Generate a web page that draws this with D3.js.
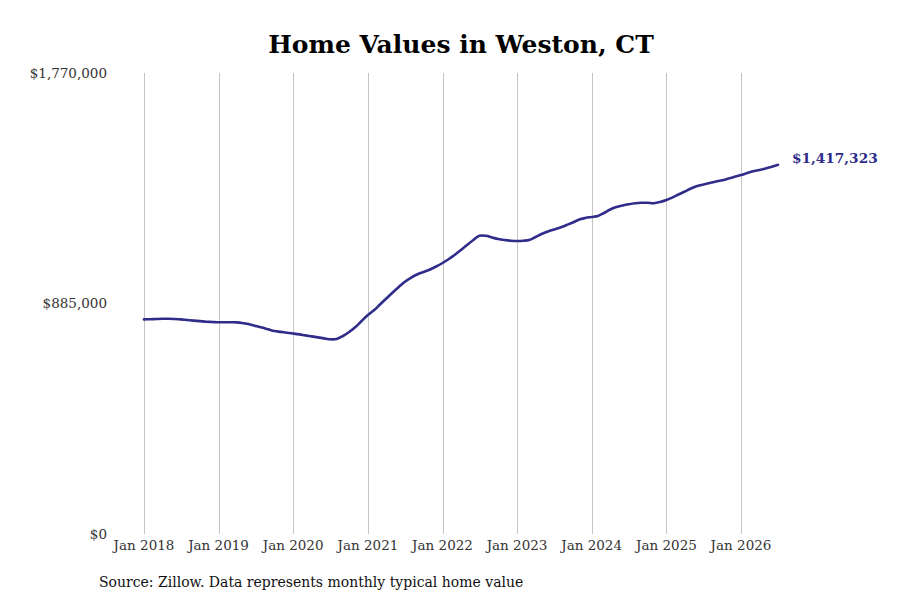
<!DOCTYPE html>
<html><head><meta charset="utf-8">
<script src="https://cdn.jsdelivr.net/npm/d3@7"></script>
<style>body{margin:0;background:#fff;} svg{display:block;}</style>
</head><body>
<svg id="c" width="900" height="600"></svg>
<script>
const startDate = "2018-01-01";
const values = [
824000,824700,825500,826300,826600,825500,824000,821600,819300,817400,815100,814000,
812800,812900,812900,812500,809400,805100,798600,792500,785900,779400,776000,772900,
769800,766400,762500,758700,754900,751000,747500,748700,760200,775600,794800,817800,
840800,860000,881200,904200,926500,948400,968700,984800,997100,1006000,1015500,1027100,
1040500,1055900,1071200,1090400,1109600,1128800,1145300,1144900,1138400,1132600,1128800,1126100,
1125000,1126100,1128800,1140300,1151800,1161400,1169100,1176800,1186400,1196000,1207500,1213300,
1217100,1221000,1232500,1245900,1255500,1261300,1265900,1269700,1271600,1271600,1270100,1274700,
1282400,1292700,1303500,1315000,1326500,1336100,1341900,1347700,1353400,1358000,1364900,1371500,
1378400,1386100,1392600,1397600,1403300,1409900,1417323
];
const yTicks = [0, 885000, 1770000];
const xTickYears = [2018,2019,2020,2021,2022,2023,2024,2025,2026];
const title = "Home Values in Weston, CT";
const source = "Source: Zillow. Data represents monthly typical home value";
const lineColor = "#2f2c8a";

const parse = d3.timeParse("%Y-%m-%d");
const t0 = parse(startDate);
const data = values.map((v,i)=>({date:d3.timeMonth.offset(t0,i), value:v}));

const svg = d3.select("#c");
const font = "'DejaVu Serif', serif";

const x = d3.scaleTime().domain([new Date(2018,0,1), new Date(2026,0,1)]).range([144, 741]);
const y = d3.scaleLinear().domain([0, 1770000]).range([534, 73]);

// gridlines
svg.append("g").selectAll("line").data(xTickYears).join("line")
  .attr("x1", d=>Math.round(x(new Date(d,0,1)))+0.5).attr("x2", d=>Math.round(x(new Date(d,0,1)))+0.5)
  .attr("y1", y(1770000)).attr("y2", y(0))
  .attr("stroke", "#c4c4c4").attr("stroke-width", 1);

// x labels
svg.append("g").selectAll("text").data(xTickYears).join("text")
  .attr("x", d=>x(new Date(d,0,1))).attr("y", 550)
  .attr("text-anchor","middle").attr("font-family", font).attr("font-size", 13.5).attr("fill","#333")
  .text(d=>d3.timeFormat("%b %Y")(new Date(d,0,1)));

// y labels
const fmt = d3.format("$,.0f");
svg.append("g").selectAll("text").data(yTicks).join("text")
  .attr("x", 107).attr("y", d=>y(d)).attr("dy","0.35em")
  .attr("text-anchor","end").attr("font-family", font).attr("font-size", 13.5).attr("fill","#333")
  .text(d=>fmt(d));

// line
const line = d3.line().x(d=>x(d.date)).y(d=>y(d.value)).curve(d3.curveCatmullRom.alpha(0.5));
svg.append("path").datum(data).attr("d", line).attr("fill","none")
  .attr("stroke", lineColor).attr("stroke-width", 2.6).attr("stroke-linejoin","round").attr("stroke-linecap","round");

// end label
const last = data[data.length-1];
svg.append("text").attr("x", x(last.date)+14).attr("y", y(last.value)-7).attr("dy","0.35em")
  .attr("font-family", font).attr("font-size", 13.7).attr("font-weight","bold").attr("fill", lineColor)
  .text(fmt(last.value));

// title
svg.append("text").attr("x", 461).attr("y", 53).attr("text-anchor","middle")
  .attr("font-family", font).attr("font-size", 25).attr("font-weight","bold").attr("fill","#000")
  .text(title);

// source
svg.append("text").attr("x", 99).attr("y", 587)
  .attr("font-family", font).attr("font-size", 14).attr("fill","#111")
  .text(source);
</script>
</body></html>
